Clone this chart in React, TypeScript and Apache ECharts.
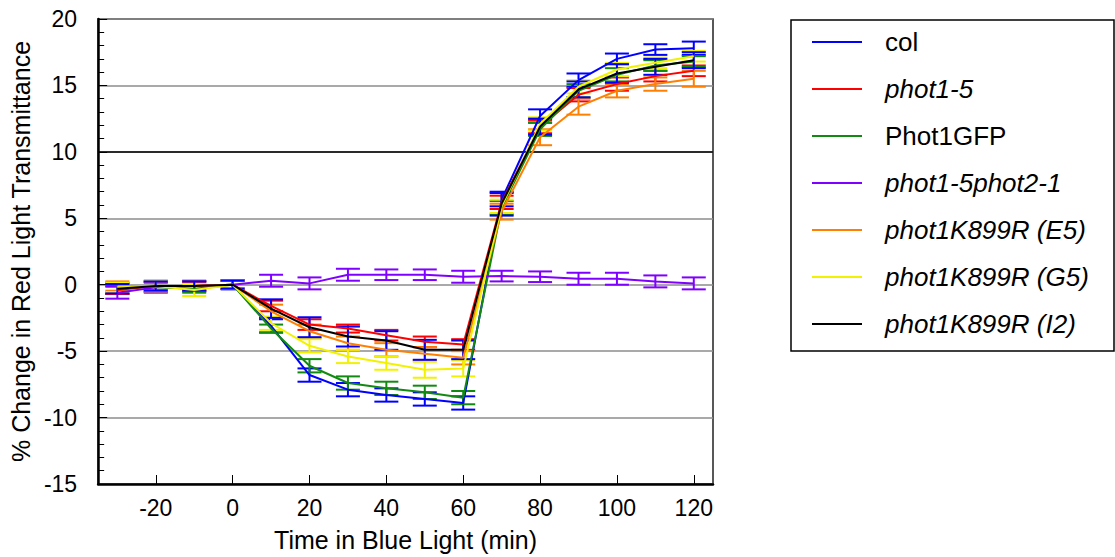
import React, { useEffect, useRef } from "react";
import * as echarts from "echarts";

// Time points (minutes in blue light)
const times = [-30, -20, -10, 0, 10, 20, 30, 40, 50, 60, 70, 80, 90, 100, 110, 120];
const xTickValues = [-20, 0, 20, 40, 60, 80, 100, 120];

const seriesNames = [
  "col",
  "phot1-5",
  "Phot1GFP",
  "phot1-5phot2-1",
  "phot1K899R (E5)",
  "phot1K899R (G5)",
  "phot1K899R (I2)",
];
const italicNames = [false, true, false, true, true, true, true];
const lineColors = ["#0000ff", "#ff0000", "#128a12", "#8000ff", "#ff8000", "#f2f200", "#000000"];
const errColors = ["#0000ff", "#ff0000", "#128a12", "#8000ff", "#ff8000", "#f2f200", "#0000ff"];

const colMean = [-0.3, -0.1, -0.1, 0, -3.1, -6.8, -7.9, -8.3, -8.6, -8.9, 6.4, 12.7, 15.4, 17.0, 17.7, 17.8];
const colErr = [0.4, 0.4, 0.4, 0.35, 0.5, 0.5, 0.5, 0.5, 0.5, 0.5, 0.5, 0.5, 0.5, 0.4, 0.4, 0.5];

const phot15Mean = [-0.4, -0.1, -0.1, 0, -1.6, -3.0, -3.3, -3.8, -4.3, -4.5, 6.2, 11.9, 14.3, 15.1, 15.7, 16.1];
const phot15Err = [0.3, 0.3, 0.3, 0.3, 0.4, 0.4, 0.3, 0.4, 0.4, 0.4, 0.5, 0.5, 0.5, 0.5, 0.4, 0.4];

const gfpMean = [-0.2, -0.2, -0.3, 0, -3.3, -6.1, -7.4, -7.8, -8.1, -8.5, 5.8, 11.7, 14.6, 15.8, 16.5, 16.8];
const gfpErr = [0.35, 0.35, 0.3, 0.3, 0.3, 0.5, 0.5, 0.5, 0.5, 0.5, 0.5, 0.5, 0.5, 0.5, 0.4, 0.4];

const doubleMean = [-0.6, -0.2, -0.1, 0, 0.3, 0.1, 0.75, 0.75, 0.75, 0.6, 0.65, 0.6, 0.45, 0.45, 0.25, 0.1];
const doubleErr = [0.45, 0.4, 0.35, 0.3, 0.45, 0.45, 0.45, 0.4, 0.4, 0.45, 0.4, 0.4, 0.45, 0.45, 0.45, 0.45];

const e5Mean = [-0.1, -0.1, -0.1, 0, -2.0, -3.5, -4.4, -4.9, -5.2, -5.5, 5.5, 11.1, 13.4, 14.6, 15.1, 15.5];
const e5Err = [0.35, 0.35, 0.35, 0.3, 0.5, 0.5, 0.5, 0.5, 0.5, 0.5, 0.6, 0.6, 0.6, 0.5, 0.5, 0.6];

const g5Mean = [-0.2, -0.1, -0.4, 0, -2.9, -4.6, -5.4, -5.9, -6.4, -6.3, 5.9, 12.1, 14.9, 16.2, 16.7, 17.2];
const g5Err = [0.35, 0.4, 0.45, 0.3, 0.5, 0.5, 0.5, 0.5, 0.6, 0.6, 0.5, 0.5, 0.5, 0.5, 0.4, 0.4];

const i2Mean = [-0.3, -0.1, -0.1, 0, -1.8, -3.2, -3.9, -4.2, -4.9, -4.9, 6.1, 11.9, 14.7, 15.9, 16.4, 16.9];
const i2Err = [0.35, 0.35, 0.35, 0.3, 0.7, 0.75, 0.75, 0.7, 0.75, 0.7, 0.9, 0.6, 0.6, 0.7, 0.6, 0.6];

const means = [colMean, phot15Mean, gfpMean, doubleMean, e5Mean, g5Mean, i2Mean];
const errs = [colErr, phot15Err, gfpErr, doubleErr, e5Err, g5Err, i2Err];

const FONT = "'Liberation Sans', Arial, Helvetica, sans-serif";

export default function App() {
  const ref = useRef<HTMLDivElement>(null);

  useEffect(() => {
    if (!ref.current) return;
    const chart = echarts.init(ref.current, undefined, { renderer: "svg" });

    const series: any[] = [];
    seriesNames.forEach((name, si) => {
      series.push({
        name,
        type: "line",
        data: times.map((t, i) => [t, means[si][i]]),
        symbol: "none",
        lineStyle: { color: lineColors[si], width: 2 },
        itemStyle: { color: lineColors[si] },
        ...(si === 0
          ? {
              markLine: {
                silent: true,
                symbol: "none",
                label: { show: false },
                lineStyle: { color: "#000", width: 1.5, type: "solid" },
                data: [{ yAxis: 10 }],
                z: 1,
              },
            }
          : {}),
      });
      series.push({
        name: name + " SE",
        type: "custom",
        data: times.map((t, i) => [t, means[si][i] - errs[si][i], means[si][i] + errs[si][i]]),
        encode: { x: 0, y: [1, 2] },
        renderItem: (params: any, api: any) => {
          const x = api.value(0);
          const lo = api.coord([x, api.value(1)]);
          const hi = api.coord([x, api.value(2)]);
          const hw = 12;
          const style = { stroke: errColors[si], lineWidth: 2, fill: "none" };
          return {
            type: "group",
            children: [
              { type: "line", shape: { x1: lo[0], y1: lo[1], x2: hi[0], y2: hi[1] }, style },
              { type: "line", shape: { x1: lo[0] - hw, y1: lo[1], x2: lo[0] + hw, y2: lo[1] }, style },
              { type: "line", shape: { x1: hi[0] - hw, y1: hi[1], x2: hi[0] + hw, y2: hi[1] }, style },
            ],
          };
        },
      });
    });

    chart.setOption({
      animation: false,
      backgroundColor: "#ffffff",
      textStyle: { fontFamily: FONT },
      grid: {
        left: 97,
        right: 402,
        top: 19,
        bottom: 73,
        show: true,
        borderColor: "#222",
        borderWidth: 1.5,
        containLabel: false,
      },
      legend: {
        orient: "vertical",
        left: 807,
        top: 24,
        icon: "rect",
        itemWidth: 50,
        itemHeight: 2,
        itemGap: 21,
        data: seriesNames.map((n, i) => ({
          name: n,
          textStyle: { fontStyle: italicNames[i] ? "italic" : "normal" },
        })),
        textStyle: {
          fontFamily: FONT,
          fontSize: 26,
          color: "#000",
          padding: [0, 0, 0, 18],
        },
        selectedMode: false,
      },
      graphic: [
        {
          type: "rect",
          shape: { x: 791, y: 20, width: 323, height: 331 },
          style: { fill: "none", stroke: "#000", lineWidth: 1.5 },
          silent: true,
        },
      ],
      xAxis: {
        type: "value",
        min: -35,
        max: 125,
        name: "Time in Blue Light (min)",
        nameLocation: "middle",
        nameGap: 43,
        nameTextStyle: { fontFamily: FONT, fontSize: 25, color: "#000" },
        axisLine: { show: true, onZero: false, lineStyle: { color: "#000", width: 2.5 } },
        axisTick: {
          show: true,
          inside: true,
          length: 9,
          customValues: xTickValues,
          lineStyle: { color: "#000", width: 1 },
        },
        axisLabel: {
          show: true,
          customValues: xTickValues,
          margin: 12,
          fontFamily: FONT,
          fontSize: 23,
          color: "#000",
        },
        splitLine: { show: false },
      },
      yAxis: {
        type: "value",
        min: -15,
        max: 20,
        interval: 5,
        name: "% Change in Red Light Transmittance",
        nameLocation: "middle",
        nameGap: 56,
        nameRotate: 90,
        nameTextStyle: { fontFamily: FONT, fontSize: 25, color: "#000" },
        axisLine: { show: true, onZero: false, lineStyle: { color: "#000", width: 2.5 } },
        axisTick: { show: true, inside: true, length: 9, lineStyle: { color: "#000", width: 1 } },
        minorTick: {
          show: true,
          splitNumber: 5,
          length: 6,
          lineStyle: { color: "#000", width: 1 },
        },
        axisLabel: {
          margin: 21,
          fontFamily: FONT,
          fontSize: 23,
          color: "#000",
        },
        splitLine: { show: true, lineStyle: { color: "#8c8c8c", width: 1.5 } },
      },
      series,
    });

    return () => chart.dispose();
  }, []);

  return (
    <div
      ref={ref}
      style={{ position: "absolute", left: 0, top: 0, width: 1115, height: 557 }}
    />
  );
}
